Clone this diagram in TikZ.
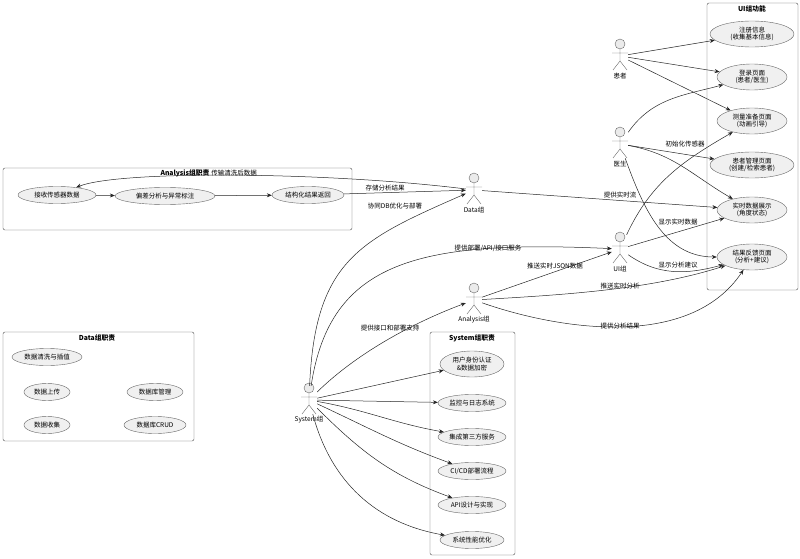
\documentclass[tikz,border=0pt]{standalone}
\usepackage{fontspec}
\setmainfont{Noto Sans CJK SC}
\usetikzlibrary{shapes.geometric,arrows.meta}
\begin{document}
\begin{tikzpicture}[x=1pt,y=-1pt,font=\fontsize{6.5}{7.5}\selectfont,
  ell/.style={ellipse,draw=black!60,fill=black!6,inner sep=0.5pt,minimum height=17,align=center},
  box/.style={draw=black!70,rounded corners=2pt},
  ttl/.style={font=\fontsize{6.8}{8}\selectfont\bfseries},
  arr/.style={-{Stealth[length=5pt,width=4pt]},black!85,line width=0.5pt},
  lbl/.style={inner sep=1pt},
  act/.style={draw=none,minimum width=16,minimum height=28,inner sep=0}]
\useasboundingbox (0,0) rectangle (800,559);
\newcommand{\myactor}[4]{%
  \draw[black!60,fill=black!8] (#2,#3) circle (5);
  \draw[black!60] (#2,#3+5) -- (#2,#3+17) (#2-8,#3+9) -- (#2+8,#3+9)
    (#2-7,#3+26) -- (#2,#3+17) -- (#2+7,#3+26);
  \node[act] (#1) at (#2,#3+12) {};
  \node[inner sep=0pt] (#1l) at (#2,#3+32) {#4};}
% boxes
\draw[box] (707,3) rectangle (798,290); \node[ttl] (tui) at (752,9) {UI组功能};
\draw[box] (3,168) rectangle (352,230); \node[ttl] (tan) at (185,173) {Analysis组职责};
\draw[box] (3,332) rectangle (194,441); \node[ttl] (tda) at (97,338) {Data组职责};
\draw[box] (430,332) rectangle (515,555); \node[ttl] (tsy) at (472,338) {System组职责};
% UI ellipses
\node[ell,minimum width=84,minimum height=26] (e1) at (752,34) {注册信息\\(收集基本信息)};
\node[ell,minimum width=70,minimum height=26] (e2) at (752,77) {登录页面\\(患者/医生)};
\node[ell,minimum width=70,minimum height=26] (e3) at (752,121) {测量准备页面\\(动画引导)};
\node[ell,minimum width=84,minimum height=26] (e4) at (752,165) {患者管理页面\\(创建/检索患者)};
\node[ell,minimum width=70,minimum height=26] (e5) at (752,210) {实时数据展示\\(角度状态)};
\node[ell,minimum width=70,minimum height=26] (e6) at (752,257) {结果反馈页面\\(分析+建议)};
% analysis ellipses
\node[ell,minimum width=78] (a1) at (57,195) {接收传感器数据};
\node[ell,minimum width=100] (a2) at (165,196) {偏差分析与异常标注};
\node[ell,minimum width=72] (a3) at (308,195) {结构化结果返回};
% data ellipses
\node[ell,minimum width=70] (d1) at (47,357) {数据清洗与插值};
\node[ell,minimum width=46] (d2) at (47,392) {数据上传};
\node[ell,minimum width=56] (d3) at (155,392) {数据库管理};
\node[ell,minimum width=46] (d4) at (47,425) {数据收集};
\node[ell,minimum width=62] (d5) at (155,425) {数据库CRUD};
% system ellipses
\node[ell,minimum width=64,minimum height=26] (s1) at (472,364) {用户身份认证\\\&数据加密};
\node[ell,minimum width=68] (s2) at (472,403) {监控与日志系统};
\node[ell,minimum width=68] (s3) at (472,437) {集成第三方服务};
\node[ell,minimum width=68] (s4) at (472,471) {CI/CD部署流程};
\node[ell,minimum width=68] (s5) at (472,505) {API设计与实现};
\node[ell,minimum width=64] (s6) at (472,540) {系统性能优化};
% actors
\myactor{pat}{620}{44}{患者}
\myactor{doc}{620}{132}{医生}
\myactor{data}{474}{178}{Data组}
\myactor{ui}{620}{237}{UI组}
\myactor{ana}{474}{288}{Analysis组}
\myactor{sys}{309}{388}{System组}
% patient
\draw[arr] (pat) -- (e1);
\draw[arr] (pat) -- (e2);
\draw[arr] (pat) -- (e3);
% doctor
\draw[arr] (doc) to[out=55,in=195] (e2);
\draw[arr] (doc) -- (e4);
\draw[arr] (doc) to[out=-10,in=150] (e5);
\draw[arr] (doc) to[out=-70,in=180] (e6);
% UI group
\draw[arr] (ui) to[out=65,in=210] (e3);
\node[lbl] (l1) at (685,144) {初始化传感器};
\draw[arr] (ui) -- (e5);
\node[lbl] (l2) at (678,222) {显示实时数据};
\draw[arr] (ui) to[out=-35,in=195] (e6);
\node[lbl] (l3) at (678,265) {显示分析建议};
% data group
\draw[arr] (data) -- (e5);
\node[lbl] (l4) at (620,195) {提供实时流};
\draw[arr] (data) .. controls (330,172) and (120,170) .. (a1);
\node[lbl] (l5) at (234,173) {传输清洗后数据};
\draw[arr] (a1) -- (a2);
\draw[arr] (a2) -- (a3);
\draw[arr] (a3) -- (data);
\node[lbl] (l6) at (385,188) {存储分析结果};
% system group
\draw[arr] (sys) .. controls (315,260) and (360,240) .. (data);
\node[lbl] (l7) at (395,206) {协同DB优化与部署};
\draw[arr] (sys) .. controls (330,260) and (420,240) .. (ui);
\node[lbl] (l8) at (488,248) {提供部署/API/接口服务};
\draw[arr] (sys) .. controls (360,350) and (420,320) .. (ana);
\node[lbl] (l9) at (390,328) {提供接口和部署支持};
\draw[arr] (ana) -- (ui);
\node[lbl] (l10) at (555,266) {推送实时JSON数据};
\draw[arr] (ana) .. controls (560,295) and (650,290) .. (e6);
\node[lbl] (l11) at (620,286) {推送实时分析};
\draw[arr] (ana) .. controls (560,330) and (690,350) .. (e6);
\node[lbl] (l12) at (620,326) {提供分析结果};
\draw[arr] (sys) -- (s1);
\draw[arr] (sys) -- (s2);
\draw[arr] (sys) to[out=-10,in=170] (s3);
\draw[arr] (sys) to[out=-25,in=160] (s4);
\draw[arr] (sys) to[out=-45,in=160] (s5);
\draw[arr] (sys) to[out=-75,in=170] (s6);
\end{tikzpicture}
\end{document}
